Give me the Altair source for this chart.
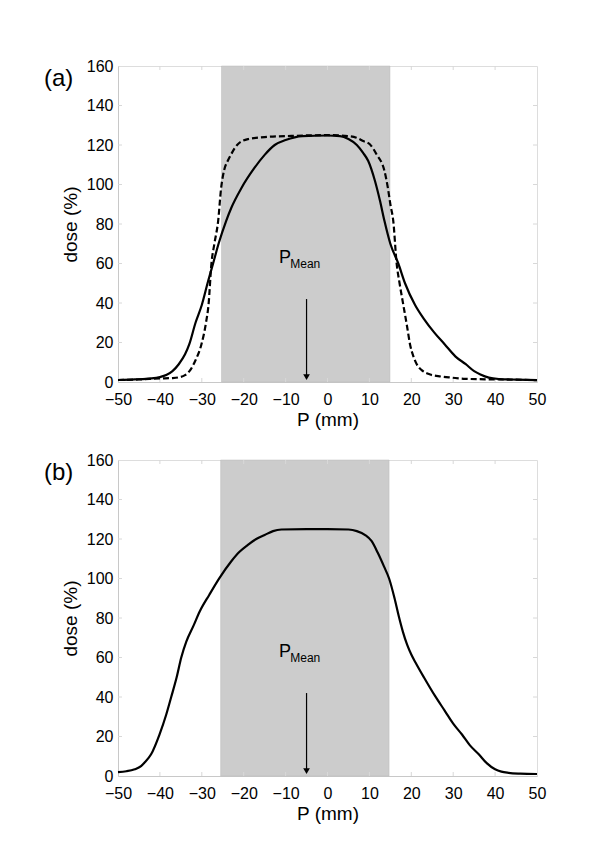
import altair as alt
import pandas as pd

# ---------------- data ----------------
# panel (a), solid profile
a_solid_x = [-50, -46, -42, -40, -38.5, -37, -35.5, -34, -33, -31.5, -30, -28.5, -27.3, -26, -24.2, -23,
             -20.6, -17.4, -15, -12.6, -10, -6, 0, 3, 5, 7, 8.5, 9.7, 11.3, 12.5, 13.6, 15, 16.9, 18.5,
             20.9, 23, 25.5, 28, 30.5, 33, 35, 36.5, 38.5, 41, 45, 50]
a_solid_y = [1.0, 1.3, 1.8, 2.5, 3.5, 5.5, 9, 14, 19, 30, 39, 51, 60, 70, 81.5, 88,
             98, 108.5, 115, 120, 122.5, 124.5, 124.8, 124.5, 123, 120, 116, 112, 102, 92, 81.5, 70, 60, 50,
             39, 32, 25, 19, 13, 9, 5.5, 3.8, 2.2, 1.5, 1.2, 0.9]
# panel (a), dashed profile
a_dash_x = [-50, -45, -40, -37, -35.7, -34, -32.9, -31.5, -30.1, -29, -28.4, -27.7, -27, -26.1, -25.4,
            -24.7, -23.8, -23, -21.4, -19, -15, -8.6, 0, 5, 6.9, 8.5, 10.1, 11.7, 13.6, 14.4, 15, 15.7,
            16.5, 17.2, 18.1, 19, 19.7, 20.5, 21.3, 22.5, 24.5, 27, 29.7, 33, 40, 45, 50]
a_dash_y = [1.0, 1.3, 1.8, 2.0, 2.3, 3.5, 5.6, 11, 19, 30, 39, 60, 70, 81.5, 98,
            107, 112, 115.3, 120.4, 123, 124, 124.6, 125, 124.5, 123.7, 122, 120.4, 115.3, 106.8, 98.4, 90, 81.5,
            60, 50, 39, 28, 19, 13, 9, 6, 3.8, 2.8, 2.2, 1.6, 1.3, 1.2, 0.9]
# panel (b) profile
b_x = [-50, -48, -46, -44.5, -43.7, -42.1, -40.1, -38.5, -37.3, -36, -34.9, -33.7, -32, -30.5, -28.2,
       -25.8, -23, -21, -19, -17, -15, -13, -11, -5, 0, 5, 7, 9, 10.5, 12, 13.5, 14.7, 16, 17, 18,
       19, 20, 21, 23, 25.7, 28, 30, 32.1, 34, 36.1, 38, 40, 41.5, 43.2, 46, 50]
b_y = [2.0, 2.4, 3.4, 5, 6.7, 11, 21, 31, 40, 50, 60, 68, 76, 83.3, 91.8,
       100.2, 108.6, 113.5, 117, 120, 122, 124, 124.8, 125, 125, 124.8, 124, 122, 119, 113, 106, 100, 90, 81, 73,
       66.5, 61.5, 57.5, 50, 40.4, 33, 26.5, 21, 15.5, 11, 6.5, 3.4, 2.2, 1.6, 1.2, 1.0]

band_a = [-25.3, 14.9]
band_b = [-25.5, 14.7]
x_ticks = [-50, -40, -30, -20, -10, 0, 10, 20, 30, 40, 50]
y_ticks = [0, 20, 40, 60, 80, 100, 120, 140, 160]
inner_x_ticks = [-40, -30, -20, -10, 0, 10, 20, 30, 40]
inner_y_ticks = [20, 40, 60, 80, 100, 120, 140]
arrow_x = -5
arrow_top = 42
arrow_tip = 2.5
pmean_p = (-11.6, 60.3)
pmean_sub = (-8.9, 57.8)

W, H = 419, 316
FONT = "Liberation Sans"
GRID = "#c8c8c8"

xs = alt.Scale(domain=[-50, 50], nice=False, zero=False)
ys = alt.Scale(domain=[0, 160], nice=False)
x_axis = alt.Axis(values=x_ticks, title="P (mm)", grid=False, ticks=False, tickSize=0,
                  labelPadding=9, titlePadding=3, domainColor=GRID, labelFontSize=16,
                  titleFontSize=19, titleFontWeight="normal", labelColor="black",
                  titleColor="black", labelFont=FONT, titleFont=FONT, labelFlush=False,
                  labelOverlap=False)
y_axis = alt.Axis(values=y_ticks, title="dose (%)", grid=False, ticks=False, tickSize=0,
                  labelPadding=5, titlePadding=6, domainColor=GRID, labelFontSize=16,
                  titleFontSize=19, titleFontWeight="normal", labelColor="black",
                  titleColor="black", labelFont=FONT, titleFont=FONT, labelOverlap=False)


def X(field):
    return alt.X(field, type="quantitative", scale=xs, axis=x_axis)


def Y(field):
    return alt.Y(field, type="quantitative", scale=ys, axis=y_axis)


def panel(curves, band, label):
    band_df = pd.DataFrame({"x": [band[0]], "x2": [band[1]]})
    layers = [
        alt.Chart(band_df).mark_rect(color="#cccccc", stroke="#bbbbbb", strokeWidth=0.5).encode(
            x=X("x"), x2="x2", y=alt.value(0), y2=alt.value(H)
        )
    ]
    # small inner ticks on the frame
    xt = pd.DataFrame({"x": inner_x_ticks})
    yt = pd.DataFrame({"y": inner_y_ticks})
    tick_color = "#d8d8d8"
    layers.append(alt.Chart(xt).mark_rule(color=tick_color).encode(
        x=X("x"), y=alt.value(H), y2=alt.value(H - 4)))
    layers.append(alt.Chart(xt).mark_rule(color=tick_color).encode(
        x=X("x"), y=alt.value(0), y2=alt.value(4)))
    layers.append(alt.Chart(yt).mark_rule(color=tick_color).encode(
        y=Y("y"), x=alt.value(0), x2=alt.value(4)))
    layers.append(alt.Chart(yt).mark_rule(color=tick_color).encode(
        y=Y("y"), x=alt.value(W), x2=alt.value(W - 4)))
    for cx, cy, dash in curves:
        df = pd.DataFrame({"x": cx, "y": cy})
        kw = dict(color="black", strokeWidth=2.2, strokeJoin="round", interpolate="monotone")
        if dash:
            kw["strokeDash"] = [6, 3]
        layers.append(alt.Chart(df).mark_line(**kw).encode(x=X("x"), y=Y("y")))
    # arrow
    adf = pd.DataFrame({"x": [arrow_x], "y": [arrow_top], "y2": [arrow_tip]})
    layers.append(alt.Chart(adf).mark_rule(color="black", strokeWidth=1.2).encode(
        x=X("x"), y=Y("y"), y2="y2"))
    layers.append(alt.Chart(adf).mark_point(shape="triangle-down", filled=True, color="black",
                                            size=45, opacity=1).encode(
        x=X("x"), y=Y("y2")))
    # P_Mean label
    pdf = pd.DataFrame({"x": [pmean_p[0]], "y": [pmean_p[1]]})
    sdf = pd.DataFrame({"x": [pmean_sub[0]], "y": [pmean_sub[1]]})
    layers.append(alt.Chart(pdf).mark_text(text="P", font=FONT, fontSize=18, align="left",
                                           baseline="alphabetic", color="black").encode(
        x=X("x"), y=Y("y")))
    layers.append(alt.Chart(sdf).mark_text(text="Mean", font=FONT, fontSize=12, align="left",
                                           baseline="alphabetic", color="black").encode(
        x=X("x"), y=Y("y")))
    # panel label
    layers.append(alt.Chart(pdf).mark_text(text=label, font=FONT, fontSize=24, align="left",
                                           baseline="alphabetic", color="black").encode(
        x=alt.value(-74), y=alt.value(20)))
    return alt.layer(*layers).properties(width=W, height=H)


pa = panel([(a_solid_x, a_solid_y, False), (a_dash_x, a_dash_y, True)], band_a, "(a)")
pb = panel([(b_x, b_y, False)], band_b, "(b)")

chart = alt.vconcat(pa, pb, spacing=21).properties(
    padding={"left": 35, "top": 49, "right": 5, "bottom": 5}
).configure_view(stroke=GRID, strokeWidth=1).configure(background="white")

chart.save("out.html", embed_options={"renderer": "svg", "actions": False})
